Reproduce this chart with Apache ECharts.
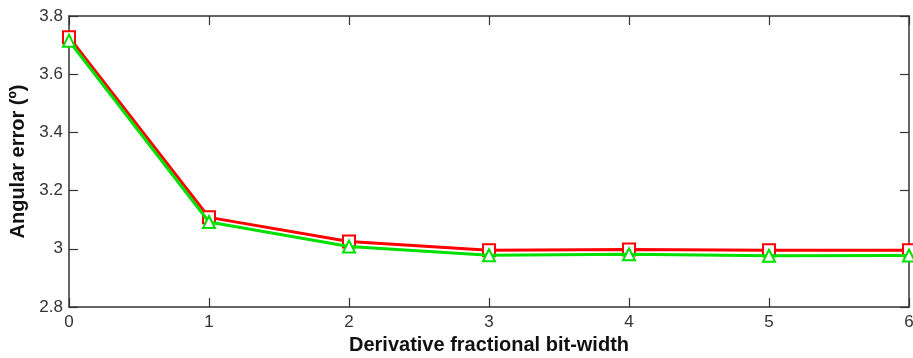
<!DOCTYPE html>
<html>
<head>
<meta charset="utf-8">
<script src="https://cdn.jsdelivr.net/npm/echarts@6/dist/echarts.min.js"></script>
<style>
  html, body { margin: 0; padding: 0; background: #fff; }
  #chart { width: 913px; height: 358px; }
</style>
</head>
<body>
<div id="chart"></div>
<script>
const bitWidths = [0, 1, 2, 3, 4, 5, 6];
const redSeries = [3.727, 3.108, 3.025, 2.995, 2.998, 2.995, 2.995];
const greenSeries = [3.715, 3.092, 3.008, 2.978, 2.981, 2.976, 2.977];

const axisColor = "#333";
const font = "Liberation Sans, Arial, sans-serif";

const chart = echarts.init(document.getElementById("chart"));

const pairs = (ys) => bitWidths.map((x, i) => [x, ys[i]]);

const baseX = {
  type: "value",
  min: 0,
  max: 6,
  interval: 1,
  axisLine: { show: true, onZero: false, lineStyle: { color: axisColor, width: 1.5 } },
  axisTick: { show: true, inside: true, length: 9, lineStyle: { color: axisColor, width: 1.2 } },
  splitLine: { show: false },
};
const baseY = {
  type: "value",
  min: 2.8,
  max: 3.8,
  interval: 0.2,
  axisLine: { show: true, onZero: false, lineStyle: { color: axisColor, width: 1.5 } },
  axisTick: { show: true, inside: true, length: 9, lineStyle: { color: axisColor, width: 1.2 } },
  splitLine: { show: false },
};

chart.setOption({
  animation: false,
  backgroundColor: "#fff",
  grid: { left: 69, right: 4, top: 16, bottom: 51, outerBoundsMode: "none" },
  xAxis: [
    {
      ...baseX,
      position: "bottom",
      name: "Derivative fractional bit-width",
      nameLocation: "middle",
      nameGap: 27,
      nameTextStyle: { fontFamily: font, fontWeight: "bold", fontSize: 20, color: "#111" },
      axisLabel: { color: "#333", fontFamily: font, fontSize: 17, margin: 7 },
    },
    { ...baseX, position: "top", axisLabel: { show: false } },
  ],
  yAxis: [
    {
      ...baseY,
      position: "left",
      name: "Angular error (º)",
      nameLocation: "middle",
      nameGap: 34,
      nameTextStyle: { fontFamily: font, fontWeight: "bold", fontSize: 20, color: "#111" },
      axisLabel: {
        color: "#333",
        fontFamily: font,
        fontSize: 17,
        margin: 6,
        formatter: (v) => String(Math.round(v * 10) / 10),
      },
    },
    { ...baseY, position: "right", axisLabel: { show: false } },
  ],
  series: [
    {
      type: "line",
      data: pairs(redSeries),
      symbol: "emptyRect",
      symbolSize: 12,
      lineStyle: { color: "#ff0000", width: 3 },
      itemStyle: { color: "#ff0000", borderWidth: 2 },
      z: 2,
    },
    {
      type: "line",
      data: pairs(greenSeries),
      symbol: "emptyTriangle",
      symbolSize: 12,
      lineStyle: { color: "#00e000", width: 3 },
      itemStyle: { color: "#00e000", borderWidth: 2 },
      z: 3,
    },
  ],
});
</script>
</body>
</html>
